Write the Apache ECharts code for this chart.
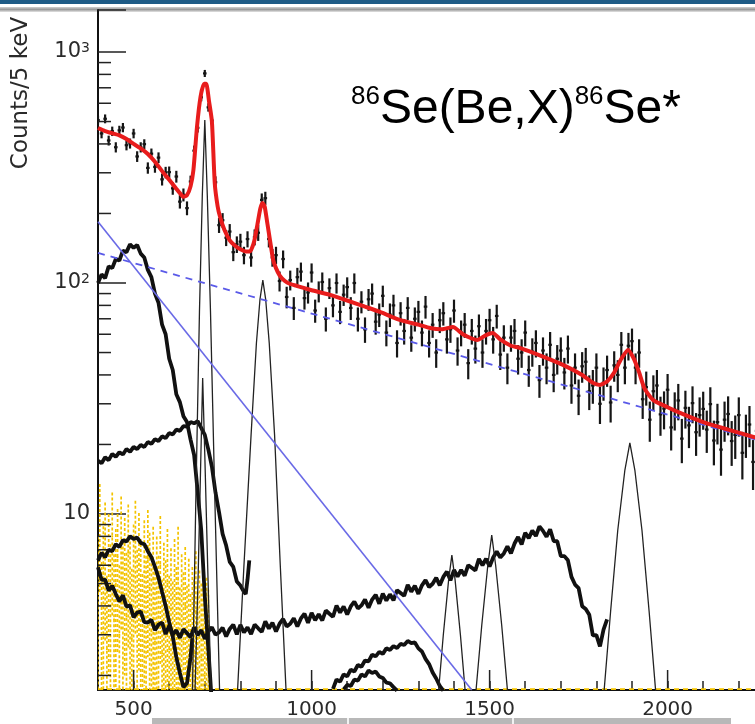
<!DOCTYPE html>
<html>
<head>
<meta charset="utf-8">
<script src="https://cdn.jsdelivr.net/npm/echarts/dist/echarts.min.js"></script>
<style>
  html, body { margin: 0; padding: 0; background: #fff; }
  #chart { width: 755px; height: 724px; }
</style>
</head>
<body>
<div id="chart"></div>
<script>
// ---- axis ranges ----
const xMin = 400, xMax = 2300;
const yMin = 1.73, yMax = 1520;
const xLabelTicks = [500, 1000, 1500, 2000];
const yMinorTicks = [2, 3, 4, 5, 6, 7, 8, 9, 20, 30, 40, 50, 60, 70, 80, 90, 200, 300, 400, 500, 600, 700, 800, 900];

// ---- measured spectrum, 10 keV bins starting at 400 keV ----
const binStart = 400, binStep = 10;
const counts = [
  507, 444, 514, 414, 454, 387, 458, 471, 395, 402,
  444, 353, 387, 399, 315, 363, 318, 349, 281, 301,
  302, 257, 289, 225, 241, 211, 275, 374, 470, 637,
  808, 576, 505, 273, 178, 187, 157, 167, 136, 147,
  151, 132, 155, 129, 158, 165, 229, 233, 155, 129,
  132, 102, 127, 87, 103, 78, 106, 112, 86, 91,
  111, 76, 92, 101, 70, 95, 80, 100, 75, 89,
  96, 78, 100, 70, 83, 63, 85, 90, 68, 73,
  88, 61, 73, 80, 55, 74, 62, 78, 58, 70,
  75, 61, 79, 55, 66, 50, 69, 74, 57, 63,
  76, 51, 61, 66, 45, 62, 52, 65, 50, 62,
  69, 57, 72, 49, 58, 43, 58, 62, 47, 50,
  61, 42, 50.5, 55, 38, 51, 43, 54, 40, 47,
  51, 41, 52, 36, 43, 32.5, 43.6, 45.6, 34, 36,
  43, 30, 37, 42, 30.4, 44, 40, 54, 43, 53.5,
  56, 43, 50, 31.4, 35.4, 25.6, 34, 36, 27, 28.6,
  34.5, 23.7, 28.3, 31, 21.2, 28.8, 24.2, 30.2, 22.6, 26.8,
  28.5, 23.2, 29.9, 20.8, 25, 19, 25.6, 27.1, 20.7, 22,
  26.8, 18.4, 22.2, 24.4, 16.8, 22.9, 19.3, 24.2, 18.1, 21.6,
  23.4
];

// ---- total fit ----
const fitEnergy = [400, 420, 440, 460, 480, 500, 520, 540, 560, 580, 600, 620, 630, 640, 650, 660, 668, 678, 688, 698, 704, 712, 720, 728, 736, 743, 755, 770, 785, 800, 815, 827, 838, 848, 856, 862, 868, 876, 884, 892, 900, 910, 925, 940, 960, 980, 1000, 1050, 1100, 1150, 1192, 1250, 1300, 1333, 1365, 1397, 1425, 1450, 1465, 1490, 1509, 1530, 1560, 1585, 1650, 1706, 1760, 1790, 1810, 1830, 1850, 1870, 1889, 1905, 1920, 1935, 1959, 2000, 2035, 2100, 2170, 2245, 2300];
const fitCounts = [469, 455, 445, 436, 420, 400, 383, 362, 335, 305, 280, 256, 245, 236, 240, 262, 308, 473, 640, 728, 728, 610, 500, 270, 215, 193, 170, 153, 145, 140, 137, 137, 150, 180, 210, 222, 215, 180, 150, 126, 116, 108, 102, 99, 97, 95, 93, 89, 84, 79, 75, 69, 66, 63.8, 63, 64.5, 60, 57.5, 56.6, 59.5, 60.8, 57, 53.5, 52.4, 48, 44.2, 40, 37, 36.2, 37.5, 41, 47, 51.3, 47, 41, 35, 31.2, 29, 27.4, 25, 23.2, 21.5, 20.5];

// ---- background components ----
const bgEnergy = [400, 2300];
const bgCounts = [135, 19.9];
const lowBgEnergy = [400, 1450];
const lowBgCounts = [184, 1.73];

// ---- full-energy peaks ----
const peak700E = [665, 675, 685, 693, 700, 707, 716, 728, 742];
const peak700V = [1.6, 12, 75, 240, 508, 240, 75, 12, 1.6];
const peak694E = [672, 682, 689, 694, 700, 708, 718];
const peak694V = [1.6, 6, 18, 38.8, 18, 6, 1.6];
const peak863E = [790, 810, 830, 845, 855, 863, 871, 881, 896, 912, 930];
const peak863V = [1.5, 6, 22, 55, 85, 103, 85, 55, 22, 6, 1.5];
const peak1394E = [1355, 1370, 1385, 1394, 1403, 1418, 1433];
const peak1394V = [1.6, 3, 5.2, 6.64, 5.2, 3, 1.6];
const peak1506E = [1460, 1478, 1495, 1506, 1517, 1534, 1552];
const peak1506V = [1.6, 3.3, 6, 8.1, 6, 3.3, 1.6];
const peak1894E = [1820, 1840, 1860, 1880, 1894, 1908, 1928, 1948, 1968];
const peak1894V = [1.6, 3.8, 8.5, 15.5, 20.3, 15.5, 8.5, 3.8, 1.6];

// ---- simulated Compton continua ----
const compton700E = [400, 410, 420, 430, 440, 450, 460, 470, 480, 490, 500, 510, 520, 530, 540, 550, 560, 570, 580, 590, 600, 610, 620, 630, 640, 650, 660, 670, 680, 690, 700, 710, 720];
const compton700V = [100, 109, 105, 118, 116, 127, 125, 138, 136, 147, 142, 146, 134, 129, 114, 106, 90, 82, 66, 60, 47, 42, 33, 30.5, 26.5, 25, 21, 18, 12.5, 8.5, 4.4, 2.6, 1.5];
const compton863E = [400, 410, 420, 430, 440, 450, 460, 470, 480, 490, 500, 510, 520, 530, 540, 550, 560, 570, 580, 590, 600, 610, 620, 630, 640, 650, 660, 670, 680, 690, 700, 710, 720, 730, 740, 750, 760, 770, 780, 790, 800, 810, 815, 820, 825];
const compton863V = [17, 16.6, 17.6, 17.1, 18.2, 17.7, 18.5, 18.1, 19.1, 18.6, 19.5, 19.1, 19.9, 19.5, 20.5, 20.1, 21.1, 20.7, 21.7, 21.3, 22.4, 22.1, 23.2, 22.9, 24, 23.9, 25, 24.7, 25.2, 23.6, 22, 19, 16, 12.4, 10.2, 8.2, 7.3, 6.2, 5.9, 5.1, 4.9, 4.6, 4.5, 5.2, 6.3];
const compton694E = [400, 410, 420, 430, 440, 450, 460, 470, 480, 490, 500, 510, 520, 530, 540, 550, 560, 570, 580, 590, 600, 610, 620, 630, 640, 650, 660, 665];
const compton694V = [6.3, 6.8, 6.5, 7.0, 6.9, 7.4, 7.2, 7.7, 7.6, 8.0, 7.8, 7.9, 7.5, 7.4, 6.9, 6.5, 5.9, 5.3, 4.6, 4.0, 3.4, 2.95, 2.4, 2.05, 1.78, 1.85, 2.4, 2.9];
const compton1894Start = 400;
const compton1894V = [
  5.88, 5.19, 5.2, 4.66, 4.89, 4.5, 4.18, 4.45, 3.97, 4.02,
  3.57, 3.74, 3.78, 3.4, 3.39, 3.48, 3.14, 3.32, 3.39, 3.02,
  3.28, 3.01, 3.14, 2.91, 3.17, 3.05, 2.93, 3.23, 2.99, 3.14,
  2.88, 3.1, 3.23, 3.0, 3.07, 3.22, 2.95, 3.18, 3.32, 3.01,
  3.31, 3.07, 3.23, 3.02, 3.32, 3.2, 3.09, 3.43, 3.19, 3.38,
  3.1, 3.35, 3.51, 3.26, 3.35, 3.54, 3.26, 3.53, 3.7, 3.38,
  3.73, 3.47, 3.68, 3.46, 3.82, 3.7, 3.59, 4.01, 3.74, 3.98,
  3.67, 3.98, 4.18, 3.9, 4.02, 4.26, 3.93, 4.26, 4.47, 4.09,
  4.52, 4.22, 4.49, 4.23, 4.68, 4.55, 4.42, 4.93, 4.61, 4.89,
  4.51, 4.91, 5.17, 4.83, 4.99, 5.3, 4.91, 5.34, 5.63, 5.16,
  5.72, 5.36, 5.72, 5.41, 6.0, 5.85, 5.7, 6.39, 6.0, 6.4,
  5.92, 6.48, 6.88, 6.48, 6.75, 7.24, 6.75, 7.45, 7.95, 7.39,
  8.3, 7.86, 8.47, 8.03, 8.84, 8.45, 7.97, 8.59, 7.64, 7.62,
  6.58, 6.57, 6.3, 5.34, 4.95, 4.78, 3.99, 3.88, 3.66, 2.98,
  2.99, 2.67, 3.16, 3.5
];
const comptonHighStart = 1060;
const comptonHighV = [1.75, 1.92, 1.88, 2.02, 1.98, 2.12, 2.08, 2.22, 2.18, 2.32, 2.3, 2.46, 2.42, 2.53, 2.48, 2.62, 2.58, 2.68, 2.63, 2.74, 2.71, 2.82, 2.76, 2.78, 2.62, 2.54, 2.36, 2.24, 2.06, 1.94, 1.8, 1.72];
const comptonMidStart = 1090;
const comptonMidV = [1.74, 1.82, 1.8, 1.92, 1.9, 2.02, 1.98, 2.1, 2.05, 2.08, 1.98, 1.95, 1.86, 1.85, 1.78, 1.72];

// ---- subtracted low-energy histogram, 5 keV bins from 400 keV ----
const subStart = 400, subStep = 5;
const subCounts = [
  4.5, 9.0, 3.2, 5.5, 7.0, 2.6, 6.0, 4.0, 8.0, 3.5,
  5.0, 6.5, 3.0, 7.5, 4.2, 5.8, 3.6, 6.8, 4.6, 2.9,
  5.4, 7.2, 3.8, 6.1, 4.4, 2.7, 5.6, 3.4, 6.4, 4.8,
  3.1, 5.2, 2.8, 4.6, 3.6, 6.0, 2.5, 4.2, 3.3, 5.0,
  2.6, 3.9, 2.4, 4.4, 3.0, 5.2, 2.2, 3.6, 2.8, 4.0,
  2.3, 3.4, 2.0, 3.0, 2.5, 3.8, 2.1, 2.9, 2.4, 3.2,
  2.0, 2.6, 2.2
];
const subErrors = [
  3.5, 4.5, 3.0, 3.8, 4.2, 2.8, 4.0, 3.4, 4.4, 3.2,
  3.6, 4.0, 3.0, 4.4, 3.4, 3.8, 3.2, 4.2, 3.4, 2.9,
  3.6, 4.2, 3.2, 4.0, 3.4, 2.8, 3.8, 3.2, 4.0, 3.5,
  3.0, 3.6, 2.8, 3.4, 3.0, 3.8, 2.7, 3.3, 3.0, 3.6,
  2.8, 3.2, 2.7, 3.4, 2.9, 3.6, 2.6, 3.1, 2.8, 3.2,
  2.6, 3.0, 2.5, 2.9, 2.7, 3.1, 2.5, 2.8, 2.6, 2.9,
  2.4, 2.7, 2.5
];
const subFloorE = [400, 2300];
const subFloorV = [1.745, 1.745];

// ---- helpers ----
const zip = (xs, ys) => xs.map((x, i) => [x, ys[i]]);
const fromStart = (start, step, ys) => ys.map((y, i) => [start + i * step, y]);

const spectrumData = counts.map((v, i) => [binStart + i * binStep, v, Math.sqrt(v)]);
const subData = subCounts.map((v, i) => [subStart + i * subStep, v, subErrors[i]]);

function errorBars(color, dash, halfWidth, width) {
  return function (params, api) {
    const e = api.value(0), v = api.value(1), err = api.value(2);
    const lo = Math.max(v - err, yMin);
    const top = api.coord([e, Math.min(v + err, yMax)]);
    const bot = api.coord([e, lo]);
    const l = api.coord([e - halfWidth, v]);
    const r = api.coord([e + halfWidth, v]);
    return {
      type: 'group',
      children: [
        { type: 'line', shape: { x1: top[0], y1: top[1], x2: bot[0], y2: bot[1] }, style: { stroke: color, lineWidth: width, lineDash: dash } },
        { type: 'line', shape: { x1: l[0], y1: l[1], x2: r[0], y2: r[1] }, style: { stroke: color, lineWidth: width } }
      ]
    };
  };
}

const lineSeries = (data, color, width, extra) => Object.assign({
  type: 'line', data: data, showSymbol: false, symbol: 'none', silent: true,
  lineStyle: { color: color, width: width }, clip: true
}, extra || {});

const thick = '#111', thin = '#222';

const chart = echarts.init(document.getElementById('chart'), null, { renderer: 'canvas' });
chart.setOption({
  animation: false,
  backgroundColor: '#fff',
  title: {
    text: '{sup|86}{m|Se(Be,X)}{sup|86}{m|Se*}',
    left: 346,
    top: 79,
    textStyle: {
      fontWeight: 'normal',
      rich: {
        m: { fontSize: 48, fontFamily: 'Liberation Sans', fontWeight: 'normal', color: '#000', lineHeight: 52 },
        sup: { fontSize: 26, fontFamily: 'Liberation Sans', fontWeight: 'normal', color: '#000', lineHeight: 36, verticalAlign: 'top' }
      }
    }
  },
  grid: { left: 98, top: 10, right: -19.4, bottom: 34, show: true, borderColor: '#444', borderWidth: 1.5, outerBoundsMode: 'none' },
  xAxis: {
    type: 'value', min: xMin, max: xMax, interval: 100,
    axisLine: { onZero: false, lineStyle: { color: '#111', width: 2 } },
    axisTick: { inside: true, length: 9, lineStyle: { color: '#222', width: 1.5 } },
    axisLabel: {
      formatter: v => (v % 500 === 0 ? String(v) : ''),
      fontFamily: 'DejaVu Sans', fontSize: 20, color: '#2a2a2a', margin: 10
    },
    splitLine: { show: false }
  },
  yAxis: {
    type: 'log', logBase: 10, min: yMin, max: yMax,
    axisLine: { show: true, lineStyle: { color: '#111', width: 2 } },
    axisTick: { show: true, inside: true, length: 28, lineStyle: { color: '#222', width: 1.5 } },
    axisLabel: {
      margin: 8,
      formatter: function (v) {
        const k = Math.round(Math.log10(v));
        if (Math.abs(Math.pow(10, k) - v) > 1e-6 * v) return '';
        if (k === 1) return '{b|10}';
        return '{b|10}{s|' + k + '}';
      },
      rich: {
        b: { fontFamily: 'DejaVu Sans', fontSize: 21, color: '#2a2a2a' },
        s: { fontFamily: 'DejaVu Sans', fontSize: 14, color: '#2a2a2a', verticalAlign: 'top', lineHeight: 14 }
      }
    },
    splitLine: { show: false }
  },
  graphic: [
    { type: 'rect', shape: { x: 0, y: 0, width: 755, height: 4 }, style: { fill: '#1d5a85' }, silent: true },
    { type: 'rect', shape: { x: 0, y: 7, width: 755, height: 5 }, style: { fill: new echarts.graphic.LinearGradient(0, 0, 0, 1, [{ offset: 0, color: '#d0d0d0' }, { offset: 0.5, color: '#9a9a9a' }, { offset: 1, color: '#e4e4e4' }]) }, silent: true },
    { type: 'rect', shape: { x: 152, y: 718, width: 579, height: 6 }, style: { fill: '#b8b8b8' }, silent: true },
    { type: 'rect', shape: { x: 347, y: 718, width: 2, height: 6 }, style: { fill: '#f2f2f2' }, silent: true },
    { type: 'rect', shape: { x: 512, y: 718, width: 2, height: 6 }, style: { fill: '#f2f2f2' }, silent: true },
    {
      type: 'text', x: 21, y: 93, rotation: Math.PI / 2,
      style: { text: 'Counts/5 keV', fontFamily: 'DejaVu Sans', fontSize: 23, fill: '#2a2a2a', align: 'center', verticalAlign: 'middle' },
      silent: true
    }
  ],
  series: [
    // subtracted histogram (dashed yellow)
    { type: 'custom', data: subData, renderItem: errorBars('#f3c300', [3, 2], 2.5, 1.7), clip: true, silent: true },
    lineSeries(zip(subFloorE, subFloorV), '#f3c300', 1.6, { lineStyle: { color: '#f3c300', width: 1.6, type: [5, 4] } }),

    // Compton continua (thick)
    lineSeries(zip(compton700E, compton700V), thick, 3.8),
    lineSeries(zip(compton863E, compton863V), thick, 3.8),
    lineSeries(zip(compton694E, compton694V), thick, 3.8),
    lineSeries(fromStart(compton1894Start, 10, compton1894V), thick, 3.8),
    lineSeries(fromStart(comptonHighStart, 10, comptonHighV), thick, 3.8),
    lineSeries(fromStart(comptonMidStart, 10, comptonMidV), thick, 3.8),

    // full-energy peaks (thin)
    lineSeries(zip(peak700E, peak700V), thin, 1.3),
    lineSeries(zip(peak694E, peak694V), thin, 1.3),
    lineSeries(zip(peak863E, peak863V), thin, 1.3),
    lineSeries(zip(peak1394E, peak1394V), thin, 1.3),
    lineSeries(zip(peak1506E, peak1506V), thin, 1.3),
    lineSeries(zip(peak1894E, peak1894V), thin, 1.3),

    // low-energy exponential background
    lineSeries(zip(lowBgEnergy, lowBgCounts), '#6a6ae6', 1.6),

    // measured spectrum with statistical errors
    { type: 'custom', data: spectrumData, renderItem: errorBars('#151515', null, 5, 2.2), clip: true, silent: true },

    // smooth background (dashed)
    lineSeries(zip(bgEnergy, bgCounts), '#5a5ae8', 1.6, { lineStyle: { color: '#5a5ae8', width: 1.8, type: [7, 6] } }),

    // total fit
    lineSeries(zip(fitEnergy, fitCounts), '#e81c1c', 4, { smooth: 0.2 }),

    // minor log ticks on the y axis
    {
      type: 'custom', silent: true, clip: false,
      data: yMinorTicks.map(v => [xMin, v]),
      renderItem: function (params, api) {
        const p = api.coord([api.value(0), api.value(1)]);
        return { type: 'line', shape: { x1: p[0], y1: p[1], x2: p[0] + 13, y2: p[1] }, style: { stroke: '#222', lineWidth: 1.5 } };
      }
    },
    // longer ticks at labelled energies
    {
      type: 'custom', silent: true, clip: false,
      data: xLabelTicks.map(e => [e, yMin]),
      renderItem: function (params, api) {
        const p = api.coord([api.value(0), api.value(1)]);
        return { type: 'line', shape: { x1: p[0], y1: p[1], x2: p[0], y2: p[1] - 20 }, style: { stroke: '#222', lineWidth: 1.5 } };
      }
    }
  ]
});
</script>
</body>
</html>
